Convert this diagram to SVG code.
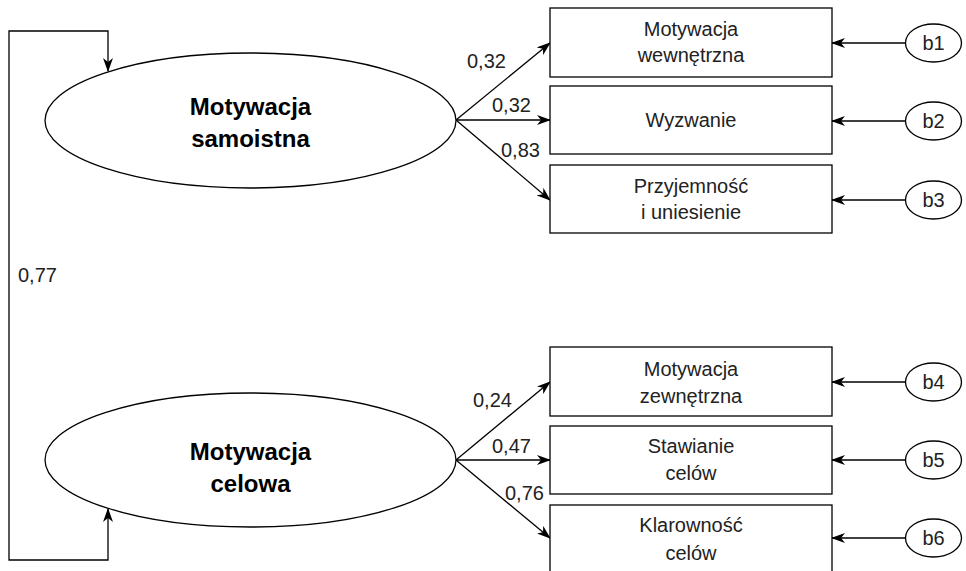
<svg xmlns="http://www.w3.org/2000/svg" width="966" height="571" viewBox="0 0 966 571">
<style>
.shape{fill:#fff;stroke:#000;stroke-width:1.3}
.lat{font-family:"Liberation Sans",Arial,sans-serif;font-size:24px;font-weight:bold;fill:#000;text-anchor:middle}
.box{font-family:"Liberation Sans",Arial,sans-serif;font-size:20px;fill:#222;text-anchor:middle}
.lbl{font-family:"Liberation Sans",Arial,sans-serif;font-size:20px;fill:#222}
.err{font-family:"Liberation Sans",Arial,sans-serif;font-size:20px;fill:#222;text-anchor:middle}
.con{fill:none;stroke:#000;stroke-width:1.3}
</style>
<defs>
<marker id="arr" viewBox="0 0 14 10" refX="13" refY="5" markerWidth="14" markerHeight="10" markerUnits="userSpaceOnUse" orient="auto-start-reverse">
<path d="M0,0 L14,5 L0,10 L4,5 z" fill="#000"/>
</marker>
</defs>
<rect width="966" height="571" fill="#fff"/>
<g id="connectors">
<path class="con" d="M108,71 V31 H9 V560 H108 V509" marker-start="url(#arr)" marker-end="url(#arr)"/>
<line class="con" x1="456" y1="120" x2="550" y2="43" marker-end="url(#arr)"/>
<line class="con" x1="456" y1="120" x2="550" y2="120" marker-end="url(#arr)"/>
<line class="con" x1="456" y1="120" x2="550" y2="200" marker-end="url(#arr)"/>
<line class="con" x1="456" y1="460" x2="550" y2="382" marker-end="url(#arr)"/>
<line class="con" x1="456" y1="460" x2="550" y2="460" marker-end="url(#arr)"/>
<line class="con" x1="456" y1="460" x2="550" y2="538" marker-end="url(#arr)"/>
<line class="con" x1="905" y1="43" x2="832" y2="43" marker-end="url(#arr)"/>
<line class="con" x1="905" y1="121" x2="832" y2="121" marker-end="url(#arr)"/>
<line class="con" x1="905" y1="200" x2="832" y2="200" marker-end="url(#arr)"/>
<line class="con" x1="905" y1="382" x2="832" y2="382" marker-end="url(#arr)"/>
<line class="con" x1="905" y1="460" x2="832" y2="460" marker-end="url(#arr)"/>
<line class="con" x1="905" y1="538" x2="832" y2="538" marker-end="url(#arr)"/>
<text class="lbl" x="467" y="68">0,32</text>
<text class="lbl" x="492" y="112">0,32</text>
<text class="lbl" x="501" y="157">0,83</text>
<text class="lbl" x="473" y="407">0,24</text>
<text class="lbl" x="492" y="453">0,47</text>
<text class="lbl" x="505" y="500">0,76</text>
<text class="lbl" x="18" y="282">0,77</text>
</g>
<g id="samoistna">
<ellipse class="shape" cx="250.5" cy="120.5" rx="205.5" ry="67.5"/>
<text class="lat" x="250.5" y="115">Motywacja</text>
<text class="lat" x="250.5" y="147">samoistna</text>
</g>
<g id="celowa">
<ellipse class="shape" cx="250.5" cy="460" rx="205.5" ry="67"/>
<text class="lat" x="250.5" y="460">Motywacja</text>
<text class="lat" x="250.5" y="492">celowa</text>
</g>
<g id="box1">
<rect class="shape" x="550" y="8" width="282" height="69"/>
<text class="box" x="691" y="36">Motywacja</text>
<text class="box" x="691" y="62">wewnętrzna</text>
</g>
<g id="box2">
<rect class="shape" x="550" y="86" width="282" height="68"/>
<text class="box" x="691" y="127">Wyzwanie</text>
</g>
<g id="box3">
<rect class="shape" x="550" y="165" width="282" height="68"/>
<text class="box" x="691" y="193">Przyjemność</text>
<text class="box" x="691" y="219">i uniesienie</text>
</g>
<g id="box4">
<rect class="shape" x="550" y="347" width="282" height="69"/>
<text class="box" x="691" y="376">Motywacja</text>
<text class="box" x="691" y="403">zewnętrzna</text>
</g>
<g id="box5">
<rect class="shape" x="550" y="426" width="282" height="68"/>
<text class="box" x="691" y="453">Stawianie</text>
<text class="box" x="691" y="480">celów</text>
</g>
<g id="box6">
<rect class="shape" x="550" y="505" width="282" height="68"/>
<text class="box" x="691" y="532">Klarowność</text>
<text class="box" x="691" y="560">celów</text>
</g>
<g id="b1"><ellipse class="shape" cx="933.5" cy="43" rx="28" ry="19"/><text class="err" x="933.5" y="50">b1</text></g>
<g id="b2"><ellipse class="shape" cx="933.5" cy="121" rx="28" ry="19"/><text class="err" x="933.5" y="128">b2</text></g>
<g id="b3"><ellipse class="shape" cx="933.5" cy="200" rx="28" ry="19"/><text class="err" x="933.5" y="207">b3</text></g>
<g id="b4"><ellipse class="shape" cx="933.5" cy="382" rx="28" ry="19"/><text class="err" x="933.5" y="389">b4</text></g>
<g id="b5"><ellipse class="shape" cx="933.5" cy="460" rx="28" ry="19"/><text class="err" x="933.5" y="467">b5</text></g>
<g id="b6"><ellipse class="shape" cx="933.5" cy="538" rx="28" ry="19"/><text class="err" x="933.5" y="545">b6</text></g>
</svg>
